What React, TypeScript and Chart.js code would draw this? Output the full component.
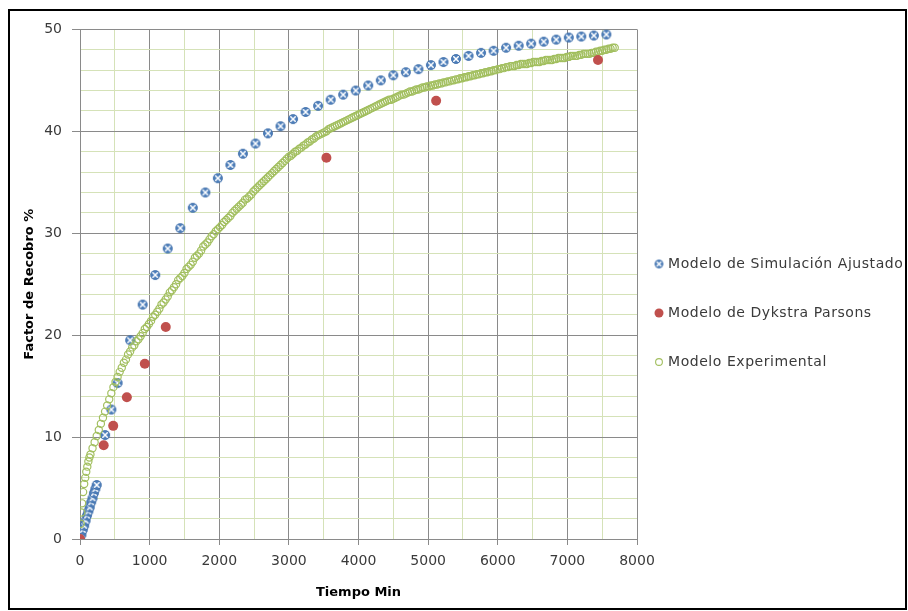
import React, { useEffect, useRef } from 'react';
import { Chart, registerables } from 'chart.js';

Chart.register(...registerables);

// ---------------- data ----------------
const seriesNames = ['Modelo de Simulación Ajustado', 'Modelo de Dykstra Parsons', 'Modelo Experimental'];

const simTime = [0, 20, 40, 60, 80, 100, 120, 140, 160, 180, 200, 220, 240, 360, 450, 540, 720, 900, 1080, 1260, 1440, 1620, 1800, 1980, 2160, 2340, 2520, 2700, 2880, 3060, 3240, 3420, 3600, 3780, 3960, 4140, 4320, 4500, 4680, 4860, 5040, 5220, 5400, 5580, 5760, 5940, 6120, 6300, 6480, 6660, 6840, 7020, 7200, 7380, 7560];
const simValue = [0, 0.4, 0.9, 1.3, 1.8, 2.3, 2.7, 3.1, 3.6, 4.0, 4.5, 4.9, 5.3, 10.2, 12.7, 15.3, 19.5, 23.0, 25.9, 28.5, 30.5, 32.5, 34.0, 35.4, 36.7, 37.8, 38.8, 39.8, 40.5, 41.2, 41.9, 42.5, 43.1, 43.6, 44.0, 44.5, 45.0, 45.5, 45.8, 46.1, 46.5, 46.8, 47.1, 47.4, 47.7, 47.9, 48.2, 48.4, 48.6, 48.8, 49.0, 49.2, 49.3, 49.4, 49.5];

const dpTime = [0, 340, 477, 673, 931, 1232, 3539, 5115, 7440];
const dpValue = [0, 9.2, 11.1, 13.9, 17.2, 20.8, 37.4, 43.0, 47.0];

const expTime = [0, 10, 20, 30, 45, 60, 75, 90, 105, 120, 135, 150, 180, 210, 240, 270, 300, 330,
  360, 390, 420, 450, 480, 510, 540, 570, 600, 630, 660, 690, 720, 750, 780, 810, 840, 870, 900, 930, 960, 990,
  1020, 1050, 1080, 1110, 1140, 1170, 1200, 1230, 1260, 1290, 1320, 1350, 1380, 1410, 1440, 1470, 1500, 1530,
  1560, 1590, 1620, 1650, 1680, 1710, 1740, 1770, 1800, 1830, 1860, 1890, 1920, 1950, 1980, 2010, 2040, 2070,
  2100, 2130, 2160, 2190, 2220, 2250, 2280, 2310, 2340, 2370, 2400, 2430, 2460, 2490, 2520, 2550, 2580, 2610,
  2640, 2670, 2700, 2730, 2760, 2790, 2820, 2850, 2880, 2910, 2940, 2970, 3000, 3030, 3060, 3090, 3120, 3150,
  3180, 3210, 3240, 3270, 3300, 3330, 3360, 3390, 3420, 3450, 3480, 3510, 3540, 3570, 3600, 3630, 3660, 3690,
  3720, 3750, 3780, 3810, 3840, 3870, 3900, 3930, 3960, 3990, 4020, 4050, 4080, 4110, 4140, 4170, 4200, 4230,
  4260, 4290, 4320, 4350, 4380, 4410, 4440, 4470, 4500, 4530, 4560, 4590, 4620, 4650, 4680, 4710, 4740, 4770,
  4800, 4830, 4860, 4890, 4920, 4950, 4980, 5010, 5040, 5070, 5100, 5130, 5160, 5190, 5220, 5250, 5280, 5310,
  5340, 5370, 5400, 5430, 5460, 5490, 5520, 5550, 5580, 5610, 5640, 5670, 5700, 5730, 5760, 5790, 5820, 5850,
  5880, 5910, 5940, 5970, 6000, 6030, 6060, 6090, 6120, 6150, 6180, 6210, 6240, 6270, 6300, 6330, 6360, 6390,
  6420, 6450, 6480, 6510, 6540, 6570, 6600, 6630, 6660, 6690, 6720, 6750, 6780, 6810, 6840, 6870, 6900, 6930,
  6960, 6990, 7020, 7050, 7080, 7110, 7140, 7170, 7200, 7230, 7260, 7290, 7320, 7350, 7380, 7410, 7440, 7470,
  7500, 7530, 7560, 7590, 7620, 7650, 7680];
const expValue = [0, 1.5, 2.6, 3.5, 4.6, 5.4, 6.0, 6.6, 7.1, 7.6, 8.0, 8.3, 8.9, 9.5, 10.1, 10.7, 11.3, 11.9,
  12.5, 13.1, 13.7, 14.3, 14.9, 15.4, 15.9, 16.4, 16.8, 17.3, 17.6, 18.1, 18.4, 18.8, 19.0, 19.4, 19.6, 19.9, 20.2, 20.6, 20.8, 21.1,
  21.4, 21.8, 22.0, 22.3, 22.6, 23.0, 23.2, 23.5, 23.8, 24.2, 24.4, 24.7, 25.0, 25.4, 25.6, 25.8, 26.1, 26.5,
  26.7, 26.9, 27.2, 27.6, 27.8, 28.0, 28.3, 28.7, 28.9, 29.1, 29.4, 29.7, 29.9, 30.2, 30.4, 30.6, 30.8, 31.1,
  31.3, 31.5, 31.7, 32.0, 32.2, 32.4, 32.6, 32.8, 33.0, 33.3, 33.4, 33.6, 33.8, 34.1, 34.3, 34.5, 34.7, 34.9,
  35.1, 35.3, 35.5, 35.7, 35.9, 36.1, 36.3, 36.5, 36.7, 36.9, 37.1, 37.3, 37.5, 37.6, 37.8, 38.0, 38.1, 38.3,
  38.4, 38.6, 38.7, 38.9, 39.0, 39.2, 39.3, 39.5, 39.6, 39.7, 39.8, 39.9, 40.0, 40.2, 40.3, 40.4, 40.5, 40.6,
  40.7, 40.8, 40.9, 41.0, 41.1, 41.2, 41.3, 41.4, 41.5, 41.6, 41.7, 41.8, 41.9, 42.0, 42.1, 42.2, 42.3, 42.4,
  42.5, 42.6, 42.7, 42.8, 42.9, 43.0, 43.1, 43.1, 43.2, 43.3, 43.4, 43.5, 43.6, 43.6, 43.7, 43.8, 43.9, 43.9,
  44.0, 44.1, 44.1, 44.2, 44.3, 44.3, 44.4, 44.4, 44.5, 44.5, 44.6, 44.6, 44.7, 44.7, 44.8, 44.8, 44.9, 44.9,
  45.0, 45.0, 45.1, 45.1, 45.2, 45.2, 45.3, 45.3, 45.4, 45.4, 45.5, 45.5, 45.6, 45.6, 45.7, 45.7, 45.8, 45.8,
  45.9, 45.9, 46.0, 46.0, 46.1, 46.1, 46.2, 46.2, 46.3, 46.3, 46.4, 46.4, 46.4, 46.5, 46.5, 46.6, 46.6, 46.6,
  46.6, 46.7, 46.7, 46.8, 46.8, 46.8, 46.8, 46.9, 46.9, 47.0, 47.0, 47.0, 47.0, 47.1, 47.1, 47.2, 47.2, 47.2,
  47.2, 47.3, 47.3, 47.4, 47.4, 47.4, 47.4, 47.5, 47.5, 47.6, 47.6, 47.6, 47.6, 47.7, 47.7, 47.8, 47.8, 47.9,
  47.9, 48.0, 48.0, 48.1, 48.1, 48.2, 48.2];

const xAxisTitle = 'Tiempo Min';
const yAxisTitle = 'Factor de Recobro %';
const xMin = 0, xMax = 8000, xMajor = 1000, xMinor = 500;
const yMin = 0, yMax = 50, yMajor = 10, yMinor = 2;

// ---------------- styles ----------------
const MAJOR = '#8a8a8a';
const MINOR = '#d5e2b8';
const BLUE = '#4f81bd';
const RED = '#c0504d';
const GREEN = '#a2bf5f';
const TEXT = '#3a3a3a';
const FONT = 'DejaVu Sans';

function makeSimMarker(r: number): HTMLCanvasElement {
  const s = Math.ceil(r * 2 + 2);
  const c = document.createElement('canvas');
  c.width = s; c.height = s;
  const g = c.getContext('2d')!;
  const cx = s / 2, cy = s / 2;
  g.beginPath(); g.arc(cx, cy, r, 0, Math.PI * 2);
  g.fillStyle = BLUE; g.fill();
  g.save();
  g.beginPath(); g.arc(cx, cy, r - 1, 0, Math.PI * 2); g.clip();
  g.strokeStyle = '#ffffff'; g.lineWidth = 1.5;
  g.beginPath();
  g.moveTo(cx - r, cy - r); g.lineTo(cx + r, cy + r);
  g.moveTo(cx + r, cy - r); g.lineTo(cx - r, cy + r);
  g.stroke();
  g.restore();
  g.beginPath(); g.arc(cx, cy, r - 0.4, 0, Math.PI * 2);
  g.lineWidth = 0.8; g.strokeStyle = '#3d6ba5'; g.stroke();
  return c;
}

export default function App() {
  const ref = useRef<HTMLCanvasElement>(null);

  useEffect(() => {
    if (!ref.current) return;
    Chart.defaults.font.family = FONT;
    const simMarker = makeSimMarker(4.8);
    const simLegendMarker = makeSimMarker(4.2);

    const sideLegend = {
      id: 'sideLegend',
      afterDraw(chart: any) {
        const { ctx, chartArea } = chart;
        ctx.save();
        ctx.font = `14px "${FONT}"`;
        try { (ctx as any).letterSpacing = '0.55px'; } catch (e) { /* ignore */ }
        ctx.textBaseline = 'middle';
        ctx.textAlign = 'left';
        const mx = chartArea.right + 22;
        const top = 253;
        const gap = 49;
        seriesNames.forEach((name, i) => {
          const y = top + i * gap;
          if (i === 0) {
            ctx.drawImage(simLegendMarker, mx - simLegendMarker.width / 2, y - simLegendMarker.height / 2);
          } else if (i === 1) {
            ctx.beginPath(); ctx.arc(mx, y, 4.5, 0, Math.PI * 2);
            ctx.fillStyle = RED; ctx.fill();
          } else {
            ctx.beginPath(); ctx.arc(mx, y, 3.4, 0, Math.PI * 2);
            ctx.lineWidth = 1.1; ctx.strokeStyle = GREEN; ctx.stroke();
          }
          ctx.fillStyle = TEXT;
          ctx.fillText(name, mx + 9, y);
        });
        ctx.restore();
      },
    };

    const toPts = (xs: number[], ys: number[]) => xs.map((x, i) => ({ x, y: ys[i] }));

    const chart = new Chart(ref.current, {
      type: 'scatter',
      data: {
        datasets: [
          {
            label: seriesNames[0],
            data: toPts(simTime, simValue),
            pointStyle: simMarker as any,
            pointRadius: 5,
            order: 2,
          },
          {
            label: seriesNames[1],
            data: toPts(dpTime, dpValue),
            pointStyle: 'circle',
            pointRadius: 5,
            backgroundColor: RED,
            borderColor: RED,
            borderWidth: 0,
            order: 0,
          },
          {
            label: seriesNames[2],
            data: toPts(expTime, expValue),
            pointStyle: 'circle',
            pointRadius: 3.6,
            backgroundColor: 'rgba(0,0,0,0)',
            borderColor: GREEN,
            borderWidth: 1.2,
            order: 1,
          },
        ],
      },
      options: {
        animation: false,
        responsive: false,
        events: [],
        layout: { padding: { top: 18, right: 268, bottom: 0, left: 0 } },
        plugins: {
          legend: { display: false },
          tooltip: { enabled: false },
        },
        scales: {
          x: {
            type: 'linear',
            min: xMin,
            max: xMax,
            afterFit: (s: any) => { s.height = 69; },
            ticks: {
              stepSize: xMinor,
              autoSkip: false,
              maxRotation: 0,
              padding: 8,
              color: TEXT,
              font: { size: 14, family: FONT },
              callback: (v: any) => (Number(v) % xMajor === 0 ? String(v) : ''),
            },
            grid: {
              color: (c: any) => (c.tick && c.tick.value % xMajor === 0 ? MAJOR : MINOR),
              tickColor: (c: any) => (c.tick && c.tick.value % xMajor === 0 ? MAJOR : 'rgba(0,0,0,0)'),
              tickLength: 6,
              lineWidth: 1,
            },
            border: { color: MAJOR, width: 1 },
            title: {
              display: true,
              text: xAxisTitle,
              color: '#000',
              font: { size: 13, weight: 'bold', family: FONT },
              padding: { top: 0, bottom: 8 },
            },
          },
          y: {
            type: 'linear',
            min: yMin,
            max: yMax,
            afterFit: (s: any) => { s.width = 70; },
            ticks: {
              stepSize: yMinor,
              autoSkip: false,
              padding: 10,
              color: TEXT,
              font: { size: 14, family: FONT },
              callback: (v: any) => (Number(v) % yMajor === 0 ? String(v) : ''),
            },
            grid: {
              color: (c: any) => (c.tick && c.tick.value % yMajor === 0 ? MAJOR : MINOR),
              tickColor: (c: any) => (c.tick && c.tick.value % yMajor === 0 ? MAJOR : 'rgba(0,0,0,0)'),
              tickLength: 8,
              lineWidth: 1,
            },
            border: { color: MAJOR, width: 1 },
            title: {
              display: true,
              text: yAxisTitle,
              color: '#000',
              font: { size: 13, weight: 'bold', family: FONT },
              padding: { top: 12, bottom: 0 },
            },
          },
        },
      },
      plugins: [sideLegend],
    });
    return () => chart.destroy();
  }, []);

  return (
    <div
      style={{
        position: 'fixed',
        left: 8,
        top: 9,
        width: 899,
        height: 601,
        border: '2px solid #000',
        boxSizing: 'border-box',
        background: '#fff',
      }}
    >
      <canvas ref={ref} width={895} height={597} style={{ display: 'block' }} />
    </div>
  );
}
